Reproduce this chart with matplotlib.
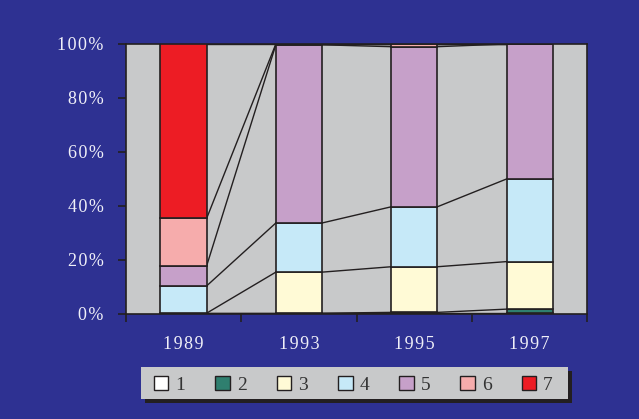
import numpy as np
from matplotlib import pyplot as plt
from matplotlib.patches import Patch, Rectangle

years = ['1989', '1993', '1995', '1997']
series_names = ['1', '2', '3', '4', '5', '6', '7']
s1 = [0.3, 0.3, 0.3, 0.3]
s2 = [0.0, 0.0, 0.3, 1.5]
s3 = [0.0, 15.2, 16.9, 17.6]
s4 = [10.1, 18.2, 22.2, 30.6]
s5 = [7.4, 66.0, 59.3, 50.0]
s6 = [17.6, 0.3, 1.0, 0.0]
s7 = [64.6, 0.0, 0.0, 0.0]
colors = ['#ffffff', '#2f7f6f', '#fffad6', '#c6e9f8', '#c6a0c9', '#f6acac', '#ed1c24']

bg = '#2e3192'
edge = '#231f20'
data = np.array([s1, s2, s3, s4, s5, s6, s7])
x = np.arange(len(years))
w = 0.4


def spaced(s):
    # the original labels are letter-spaced
    return '\u200a'.join(s)


fig = plt.figure(figsize=(6.39, 4.19), dpi=100, facecolor=bg)
ax = fig.add_axes([0.197, 0.2506, 0.722, 0.6444])
ax.set_facecolor('#c8c9ca')

bottom = np.zeros(len(years))
for vals, c in zip(data, colors):
    ax.bar(x, vals, w, bottom=bottom, color=c, edgecolor=edge, linewidth=1.2, zorder=3)
    bottom = bottom + vals

# series lines between bars
cum = np.cumsum(data, axis=0)
for row in cum:
    for i in range(len(years) - 1):
        ax.plot([x[i] + w / 2, x[i + 1] - w / 2], [row[i], row[i + 1]],
                color=edge, linewidth=1.0, zorder=2)

ax.set_xlim(-0.5, 3.5)
ax.set_ylim(0, 100)
ax.set_yticks(np.arange(0, 101, 20))
ax.set_yticklabels([spaced('%d%%' % v) for v in range(0, 101, 20)])
ax.set_xticks(np.arange(-0.5, 3.6, 1))
ax.set_xticklabels([])
ax.set_xticks(x, minor=True)
ax.set_xticklabels([spaced(y) for y in years], minor=True)
ax.tick_params(axis='x', which='minor', length=0, pad=16)
ax.tick_params(axis='y', which='major', pad=10)
ax.tick_params(axis='both', which='major', length=6, color=edge, width=1.2)
ax.tick_params(axis='both', which='both', labelcolor='#f0f0f8', labelsize=13)
for lab in ax.get_xticklabels(minor=True) + ax.get_yticklabels():
    lab.set_family('Liberation Serif')
for s in ax.spines.values():
    s.set_color(edge)
    s.set_linewidth(1.2)

# legend box with shadow
W, H = 639.0, 419.0
fig.patches.append(Rectangle((145 / W, 16 / H), 427 / W, 32 / H, transform=fig.transFigure,
                             facecolor=edge, edgecolor='none', zorder=1))
fig.patches.append(Rectangle((141 / W, 20 / H), 427 / W, 32 / H, transform=fig.transFigure,
                             facecolor='#c8c9ca', edgecolor='none', zorder=2))

handles = [Patch(facecolor=c, edgecolor=edge) for c in colors]
leg = fig.legend(handles, series_names, loc='center', ncol=7,
                 bbox_to_anchor=(0.553, 0.081), frameon=False,
                 prop={'family': 'Liberation Serif', 'size': 14},
                 handlelength=0.75, handleheight=0.75, handletextpad=0.35,
                 columnspacing=1.55)
for t in leg.get_texts():
    t.set_color('#333333')

fig.savefig('out.png', dpi=100, facecolor=bg)
